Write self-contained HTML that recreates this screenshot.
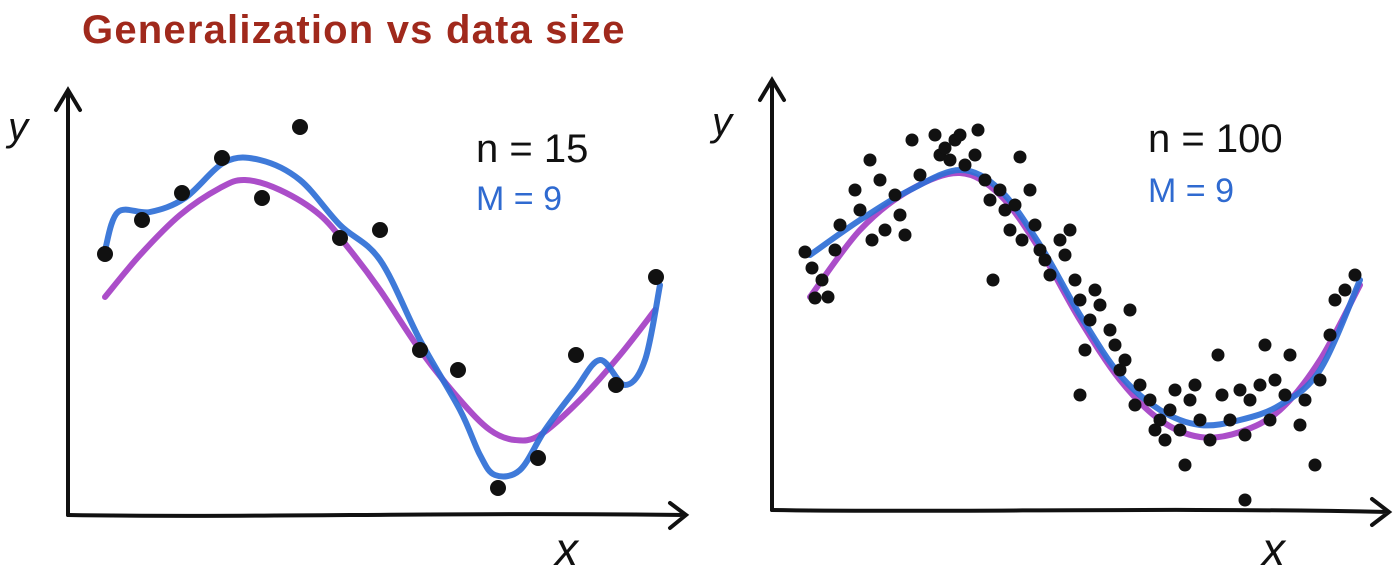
<!DOCTYPE html>
<html><head><meta charset="utf-8">
<style>
html,body{margin:0;padding:0;background:#fff;}
svg{display:block;}
text{font-family:"Liberation Sans",sans-serif;}
</style></head>
<body>
<svg id="chart" width="1398" height="582" viewBox="0 0 1398 582">
  <text x="82" y="43" font-size="40" font-weight="bold" letter-spacing="1.2" fill="#a0291c">Generalization vs data size</text>
  <g>
    <path d="M68,515 L68,92 M56,110 L68,90 L80,110" stroke="#111" stroke-width="4" fill="none" stroke-linecap="round"/>
    <path d="M68,515 C250,518 450,512 685,515 M670,503 L686,515 L670,528" stroke="#111" stroke-width="4" fill="none" stroke-linecap="round"/>
    <text x="8" y="140" font-size="40" font-style="italic" fill="#111">y</text>
    <text x="555" y="565" font-size="46" font-style="italic" fill="#111">x</text>
    <text x="476" y="162" font-size="40" fill="#111">n = 15</text>
    <text x="476" y="210" font-size="34" fill="#2f6ad0">M = 9</text>
  </g>
  <g>
    <path d="M772,510 L772,82 M760,100 L772,80 L784,100" stroke="#111" stroke-width="4" fill="none" stroke-linecap="round"/>
    <path d="M772,510 C950,513 1150,507 1388,512 M1372,499 L1389,512 L1372,525" stroke="#111" stroke-width="4" fill="none" stroke-linecap="round"/>
    <text x="712" y="135" font-size="40" font-style="italic" fill="#111">y</text>
    <text x="1262" y="565" font-size="46" font-style="italic" fill="#111">x</text>
    <text x="1148" y="152" font-size="40" fill="#111">n = 100</text>
    <text x="1148" y="202" font-size="34" fill="#2f6ad0">M = 9</text>
  </g>
  <g id="marks"></g>
</svg>
<script>
const leftPointsX=[0.37,0.74,1.14,1.54,1.94,2.32,2.72,3.12,3.52,3.90,4.30,4.70,5.08,5.48,5.88];
const leftPointsY=[0.51,0.85,1.12,1.47,1.07,1.78,0.67,0.75,-0.45,-0.65,-1.83,-1.53,-0.50,-0.80,0.28];
const leftTrueX=[0.37,0.72,1.12,1.52,1.77,2.12,2.52,2.82,3.12,3.52,3.92,4.22,4.47,4.72,5.12,5.52,5.87];
const leftTrueY=[0.08,0.50,0.90,1.17,1.25,1.15,0.90,0.55,0.15,-0.45,-0.95,-1.25,-1.35,-1.30,-0.95,-0.50,-0.05];
const leftFitX=[0.37,0.50,0.82,1.17,1.57,1.92,2.32,2.72,3.12,3.52,3.92,4.12,4.27,4.52,4.77,5.07,5.32,5.57,5.77,5.92];
const leftFitY=[0.55,0.93,0.93,1.07,1.43,1.45,1.25,0.80,0.45,-0.35,-1.05,-1.50,-1.70,-1.65,-1.25,-0.85,-0.55,-0.80,-0.55,0.20];
const rightPointsX=[0.33,0.40,0.50,0.56,0.43,0.63,0.68,0.83,0.88,0.98,1.08,1.00,1.13,1.23,1.28,1.33,1.40,1.48,1.63,1.68,1.73,1.78,1.83,1.88,1.93,2.03,2.06,2.13,2.18,2.21,2.28,2.33,2.38,2.43,2.48,2.50,2.58,2.63,2.68,2.73,2.78,2.88,2.93,2.98,3.03,3.08,3.13,3.18,3.23,3.28,3.38,3.43,3.48,3.53,3.58,3.63,3.68,3.08,3.78,3.83,3.88,3.93,3.98,4.03,4.08,4.13,4.18,4.23,4.28,4.38,4.46,4.50,4.58,4.68,4.73,4.78,4.88,4.93,4.98,5.03,5.13,5.18,5.28,5.33,5.43,5.48,5.58,5.63,5.73,5.83,4.73];
const rightPointsY=[0.48,0.32,0.20,0.03,0.02,0.50,0.75,1.10,0.90,1.40,1.20,0.60,0.70,1.05,0.85,0.65,1.60,1.25,1.65,1.45,1.52,1.40,1.60,1.65,1.35,1.45,1.70,1.20,1.00,0.20,1.10,0.90,0.70,0.95,1.43,0.60,1.10,0.75,0.50,0.40,0.25,0.60,0.45,0.70,0.20,0.00,-0.50,-0.20,0.10,-0.05,-0.30,-0.45,-0.70,-0.60,-0.10,-1.05,-0.85,-0.95,-1.00,-1.30,-1.20,-1.40,-1.10,-0.90,-1.30,-1.65,-1.00,-0.85,-1.20,-1.40,-0.55,-0.95,-1.20,-0.90,-1.35,-1.00,-0.85,-0.45,-1.20,-0.80,-0.95,-0.55,-1.25,-1.00,-1.65,-0.80,-0.35,0.00,0.10,0.25,-2.00];
const rightTrueX=[0.38,0.88,1.38,1.88,2.28,2.68,3.08,3.48,3.88,4.28,4.68,5.08,5.48,5.88];
const rightTrueY=[0.03,0.70,1.10,1.27,1.05,0.50,-0.20,-0.80,-1.20,-1.37,-1.32,-1.10,-0.60,0.15];
const rightFitX=[0.38,0.88,1.38,1.88,2.28,2.68,3.08,3.48,3.88,4.28,4.68,5.08,5.48,5.88];
const rightFitY=[0.45,0.80,1.10,1.30,1.10,0.55,-0.15,-0.75,-1.10,-1.25,-1.20,-1.05,-0.70,0.20];

const NS="http://www.w3.org/2000/svg";
const g=document.getElementById('marks');
const lx=x=>68+x*100, ly=y=>305-y*100;
const rx=x=>772+x*100, ry=y=>300-y*100;
function smooth(pts){
  let d="M"+pts[0][0]+","+pts[0][1];
  for(let i=0;i<pts.length-1;i++){
    const p0=pts[Math.max(0,i-1)],p1=pts[i],p2=pts[i+1],p3=pts[Math.min(pts.length-1,i+2)];
    d+=" C"+(p1[0]+(p2[0]-p0[0])/6)+","+(p1[1]+(p2[1]-p0[1])/6)+" "+(p2[0]-(p3[0]-p1[0])/6)+","+(p2[1]-(p3[1]-p1[1])/6)+" "+p2[0]+","+p2[1];
  }
  return d;
}
function curve(xs,ys,fx,fy,color,name){
  const p=document.createElementNS(NS,'path');
  p.setAttribute('d',smooth(xs.map((x,i)=>[fx(x),fy(ys[i])])));
  p.setAttribute('stroke',color);p.setAttribute('stroke-width','6');
  p.setAttribute('fill','none');p.setAttribute('stroke-linecap','round');p.setAttribute('opacity','0.92');
  
  
  g.appendChild(p);
}
function dots(xs,ys,fx,fy,r,name){
  xs.forEach((x,i)=>{
    const c=document.createElementNS(NS,'circle');
    c.setAttribute('cx',fx(x));c.setAttribute('cy',fy(ys[i]));c.setAttribute('r',r);c.setAttribute('fill','#111');
    
    
    g.appendChild(c);
  });
}
curve(leftTrueX,leftTrueY,lx,ly,'#a43fc4','left-true-curve');
curve(leftFitX,leftFitY,lx,ly,'#2f6fd6','left-fit-curve');
dots(leftPointsX,leftPointsY,lx,ly,8,'left-data-point');
curve(rightTrueX,rightTrueY,rx,ry,'#a43fc4','right-true-curve');
curve(rightFitX,rightFitY,rx,ry,'#2f6fd6','right-fit-curve');
dots(rightPointsX,rightPointsY,rx,ry,6.5,'right-data-point');
</script>
</body></html>
